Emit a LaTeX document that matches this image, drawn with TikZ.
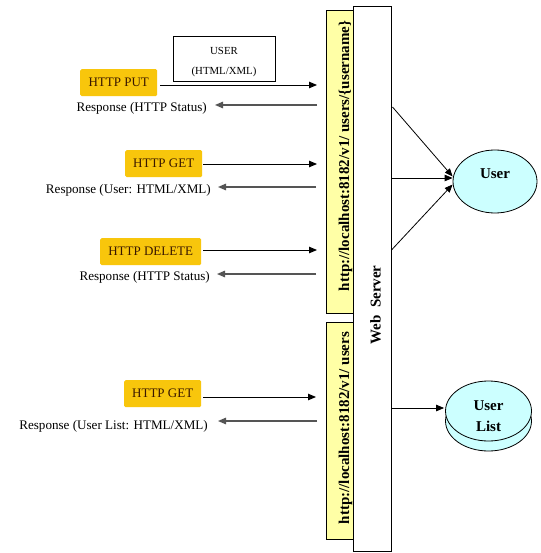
\documentclass[tikz,border=0pt]{standalone}
\usepackage{fontspec}
\setmainfont{Liberation Serif}
\usetikzlibrary{arrows.meta,shapes.geometric}
\definecolor{gold}{HTML}{F8C60C}
\definecolor{paleyellow}{HTML}{FFFFA6}
\definecolor{lightcyan}{HTML}{CCFFFF}
\definecolor{darktext}{HTML}{3A1800}
\definecolor{respgray}{HTML}{555555}
\tikzset{
  verb/.style={fill=gold, rounded corners=1.5pt, text=darktext, font=\fontsize{13}{14}\selectfont, inner sep=0pt, anchor=north west},
  resp/.style={font=\fontsize{13.1}{14}\selectfont, text=black, inner sep=0pt},
  fwd/.style={draw=black, line width=0.9pt, -{Triangle[length=8pt,width=6.5pt]}},
  back/.style={draw=respgray, line width=1.3pt, -{Triangle[length=8pt,width=6.5pt]}},
  urlbox/.style={draw=black, fill=paleyellow, line width=0.8pt, anchor=north west, inner sep=0pt},
  urltext/.style={rotate=90, font=\bfseries\fontsize{15}{16}\selectfont, inner sep=0pt},
  server/.style={draw=black, fill=white, line width=0.8pt, anchor=north west, inner sep=0pt},
  entity/.style={ellipse, draw=black, fill=lightcyan, line width=0.8pt, inner sep=0pt},
  entitytext/.style={font=\bfseries\fontsize{15}{21}\selectfont, inner sep=0pt, align=center},
  link/.style={draw=black, line width=0.8pt, -{Triangle[length=8pt,width=6.5pt]}}
}
\begin{document}
\begin{tikzpicture}[x=1pt,y=-1pt]
\useasboundingbox (0,0) rectangle (540,553);
\fill[white] (0,0) rectangle (540,553);
% URL boxes
\node[urlbox, minimum width=34pt, minimum height=303pt] (url1) at (326,10) {};
\node[urlbox, minimum width=34pt, minimum height=217pt] (url2) at (326,322) {};
\node[urltext] (url1t) at (345.5,156) {http://localhost:8182/v1/ users/\{username\}};
\node[urltext] (url2t) at (345.5,428) {http://localhost:8182/v1/ users};
% Web server
\node[server, minimum width=38pt, minimum height=545pt] (ws) at (353,6) {};
\node[rotate=90, font=\bfseries\fontsize{15}{16}\selectfont, inner sep=0pt] (wst) at (375.5,305) {Web\ \ Server};
% verbs
\node[verb, minimum width=77pt, minimum height=27pt] (put) at (80,69) {HTTP PUT};
\node[verb, minimum width=77pt, minimum height=27pt] (get1) at (125,150) {HTTP GET};
\node[verb, minimum width=101pt, minimum height=27pt] (del) at (100,238) {HTTP DELETE};
\node[verb, minimum width=77pt, minimum height=27pt] (get2) at (124,380) {HTTP GET};
% payload box
\node[draw=black, line width=0.8pt, fill=white, anchor=north west, minimum width=102pt, minimum height=45pt, inner sep=0pt] (payload) at (173,36) {};
\node[font=\fontsize{10.8}{12}\selectfont, inner sep=0pt] (payt1) at (224,51) {USER};
\node[font=\fontsize{10.8}{12}\selectfont, inner sep=0pt] (payt2) at (224,72) {(HTML/XML)};
% responses
\node[resp, anchor=east] (r1) at (207,108) {Response (HTTP Status)};
\node[resp, anchor=east] (r2) at (211,190) {Response (User: HTML/XML)};
\node[resp, anchor=east] (r3) at (210,277) {Response (HTTP Status)};
\node[resp, anchor=east] (r4) at (208,426) {Response (User List: HTML/XML)};
% entities
\node[entity, minimum width=84pt, minimum height=63pt] (user) at (495,181.5) {};
\node[entitytext] (usert) at (495,174) {User};
\node[entity, minimum width=86pt, minimum height=60pt] (listb) at (488.5,421) {};
\node[entity, minimum width=86pt, minimum height=60pt] (list) at (488.5,411) {};
\node[entitytext] (listt) at (488.5,416) {User\\List};
% arrow end coordinates
\coordinate (a1) at (317,85);
\coordinate (b1) at (317,105);
\coordinate (a2) at (317,164);
\coordinate (b2) at (316,187);
\coordinate (a3) at (317,250);
\coordinate (b3) at (316,274);
\coordinate (a4) at (316,397);
\coordinate (b4) at (317,421);
\draw[fwd] ([xshift=3pt]put.east |- a1) -- (a1);
\draw[fwd] ([xshift=1pt]get1.east |- a2) -- (a2);
\draw[fwd] ([xshift=2pt]del.east |- a3) -- (a3);
\draw[fwd] ([xshift=2pt]get2.east |- a4) -- (a4);
\draw[back] (b1) -- ([xshift=8pt]r1.east |- b1);
\draw[back] (b2) -- ([xshift=7pt]r2.east |- b2);
\draw[back] (b3) -- ([xshift=7pt]r3.east |- b3);
\draw[back] (b4) -- ([xshift=10pt]r4.east |- b4);
% server to entities
\coordinate (s1) at (392.5,107);
\coordinate (s2) at (392,178);
\coordinate (s3) at (391.5,250);
\coordinate (s4) at (391.5,408);
\draw[link] (s1) -- ([yshift=5pt]user.west);
\draw[link] (s2) -- ([yshift=3.5pt]user.west);
\draw[link] (s3) -- ([yshift=-3pt]user.west);
\draw[link] (s4) -- ([xshift=-1pt]list.west |- s4);
\end{tikzpicture}
\end{document}
